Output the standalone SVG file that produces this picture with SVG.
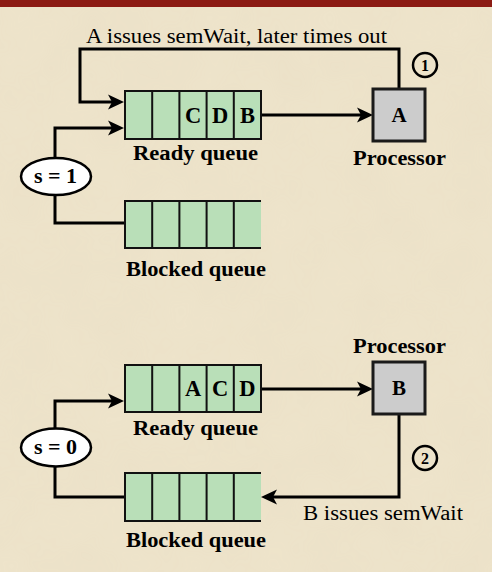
<svg xmlns="http://www.w3.org/2000/svg" width="492" height="572" viewBox="0 0 492 572">
<defs>
<style>
.bg{fill:#EEE4CB}
.bar{fill:#8C1B13}
.q{fill:#B9DFB8;stroke:none}
.ql{stroke:#111;stroke-width:2;fill:none}
.proc{fill:#CCCCCC;stroke:#1a1a1a;stroke-width:3}
.conn{stroke:#000;stroke-width:3;fill:none}
.ell{fill:#fff;stroke:#000;stroke-width:2.5}
.num{fill:none;stroke:#000;stroke-width:2.5}
text{font-family:'Liberation Serif',Tinos,'Times New Roman',serif;fill:#000}
.b{font-weight:bold}
</style>
<filter id="tex" x="0" y="0" width="100%" height="100%">
<feTurbulence type="fractalNoise" baseFrequency="0.02" numOctaves="3" seed="4"/>
<feColorMatrix type="matrix" values="0 0 0 0 0.6  0 0 0 0 0.5  0 0 0 0 0.35  0 0 0 0.35 0"/>
</filter>
<marker id="ah" markerUnits="userSpaceOnUse" markerWidth="18" markerHeight="16" refX="6" refY="8" orient="auto">
<path d="M0,0.5 L16,8 L0,15.5 L4,8 Z" fill="#000"/>
</marker>
</defs>
<rect class="bg" x="0" y="0" width="492" height="572"/>
<rect x="0" y="0" width="492" height="572" filter="url(#tex)" opacity="0.2"/>
<rect class="bar" x="0" y="0" width="492" height="7"/>

<g id="connectors">
<path class="conn" d="M399,89 V49 H80 V102 H114" marker-end="url(#ah)"/>
<path class="conn" d="M55,158 V128 H114" marker-end="url(#ah)"/>
<path class="conn" d="M261,115 H363" marker-end="url(#ah)"/>
<path class="conn" d="M55,195 V223 H125"/>
<path class="conn" d="M55,428 V401 H114" marker-end="url(#ah)"/>
<path class="conn" d="M261,389 H363" marker-end="url(#ah)"/>
<path class="conn" d="M399,414 V497 H271" marker-end="url(#ah)"/>
<path class="conn" d="M55,467 V497 H125"/>
<text x="236.5" y="43" font-size="20" text-anchor="middle" textLength="301" lengthAdjust="spacingAndGlyphs">A issues semWait, later times out</text>
<text x="383" y="520" font-size="20" text-anchor="middle" textLength="160" lengthAdjust="spacingAndGlyphs">B issues semWait</text>
<g id="step1"><circle class="num" cx="425" cy="65" r="12"/><text class="b" x="425" y="70.5" font-size="16" text-anchor="middle">1</text></g>
<g id="step2"><circle class="num" cx="425" cy="458" r="12"/><text class="b" x="425" y="463.5" font-size="16" text-anchor="middle">2</text></g>
</g>

<g id="ready1">
<rect class="q" x="125" y="91" width="136" height="48"/>
<path class="ql" d="M125,91 H261 V139 H125 Z M152.2,91 V139 M179.4,91 V139 M206.6,91 V139 M233.8,91 V139"/>
<text class="b" x="193" y="123" font-size="22.5" text-anchor="middle">C</text>
<text class="b" x="220.2" y="123" font-size="22.5" text-anchor="middle">D</text>
<text class="b" x="247.4" y="123" font-size="22.5" text-anchor="middle">B</text>
<text class="b" x="195.5" y="160" font-size="20" text-anchor="middle" textLength="125" lengthAdjust="spacingAndGlyphs">Ready queue</text>
</g>

<g id="blocked1">
<rect class="q" x="125" y="201" width="136" height="47"/>
<path class="ql" d="M261,201 H125 V248 H261 M152.2,201 V248 M179.4,201 V248 M206.6,201 V248 M233.8,201 V248"/>
<text class="b" x="196" y="276" font-size="20" text-anchor="middle" textLength="140" lengthAdjust="spacingAndGlyphs">Blocked queue</text>
</g>

<g id="procA">
<rect class="proc" x="373" y="89" width="52" height="52"/>
<text class="b" x="399" y="122" font-size="21" text-anchor="middle">A</text>
<text class="b" x="399.5" y="165" font-size="20" text-anchor="middle" textLength="93" lengthAdjust="spacingAndGlyphs">Processor</text>
</g>

<g id="sem1">
<ellipse class="ell" cx="56" cy="176.5" rx="35" ry="18.5"/>
<text class="b" x="55.5" y="183" font-size="22" text-anchor="middle">s = 1</text>
</g>

<g id="ready2">
<rect class="q" x="125" y="365" width="136" height="47"/>
<path class="ql" d="M125,365 H261 V412 H125 Z M152.2,365 V412 M179.4,365 V412 M206.6,365 V412 M233.8,365 V412"/>
<text class="b" x="193" y="396" font-size="22.5" text-anchor="middle">A</text>
<text class="b" x="220.2" y="396" font-size="22.5" text-anchor="middle">C</text>
<text class="b" x="247.4" y="396" font-size="22.5" text-anchor="middle">D</text>
<text class="b" x="195.5" y="435" font-size="20" text-anchor="middle" textLength="125" lengthAdjust="spacingAndGlyphs">Ready queue</text>
</g>

<g id="blocked2">
<rect class="q" x="125" y="473" width="136" height="48"/>
<path class="ql" d="M261,473 H125 V521 H261 M152.2,473 V521 M179.4,473 V521 M206.6,473 V521 M233.8,473 V521"/>
<text class="b" x="196" y="547" font-size="20" text-anchor="middle" textLength="140" lengthAdjust="spacingAndGlyphs">Blocked queue</text>
</g>

<g id="procB">
<rect class="proc" x="373" y="362" width="52" height="52"/>
<text class="b" x="399" y="395" font-size="21" text-anchor="middle">B</text>
<text class="b" x="399.5" y="353" font-size="20" text-anchor="middle" textLength="93" lengthAdjust="spacingAndGlyphs">Processor</text>
</g>

<g id="sem0">
<ellipse class="ell" cx="56" cy="447.5" rx="35" ry="19"/>
<text class="b" x="55.5" y="454" font-size="22" text-anchor="middle">s = 0</text>
</g>
</svg>
